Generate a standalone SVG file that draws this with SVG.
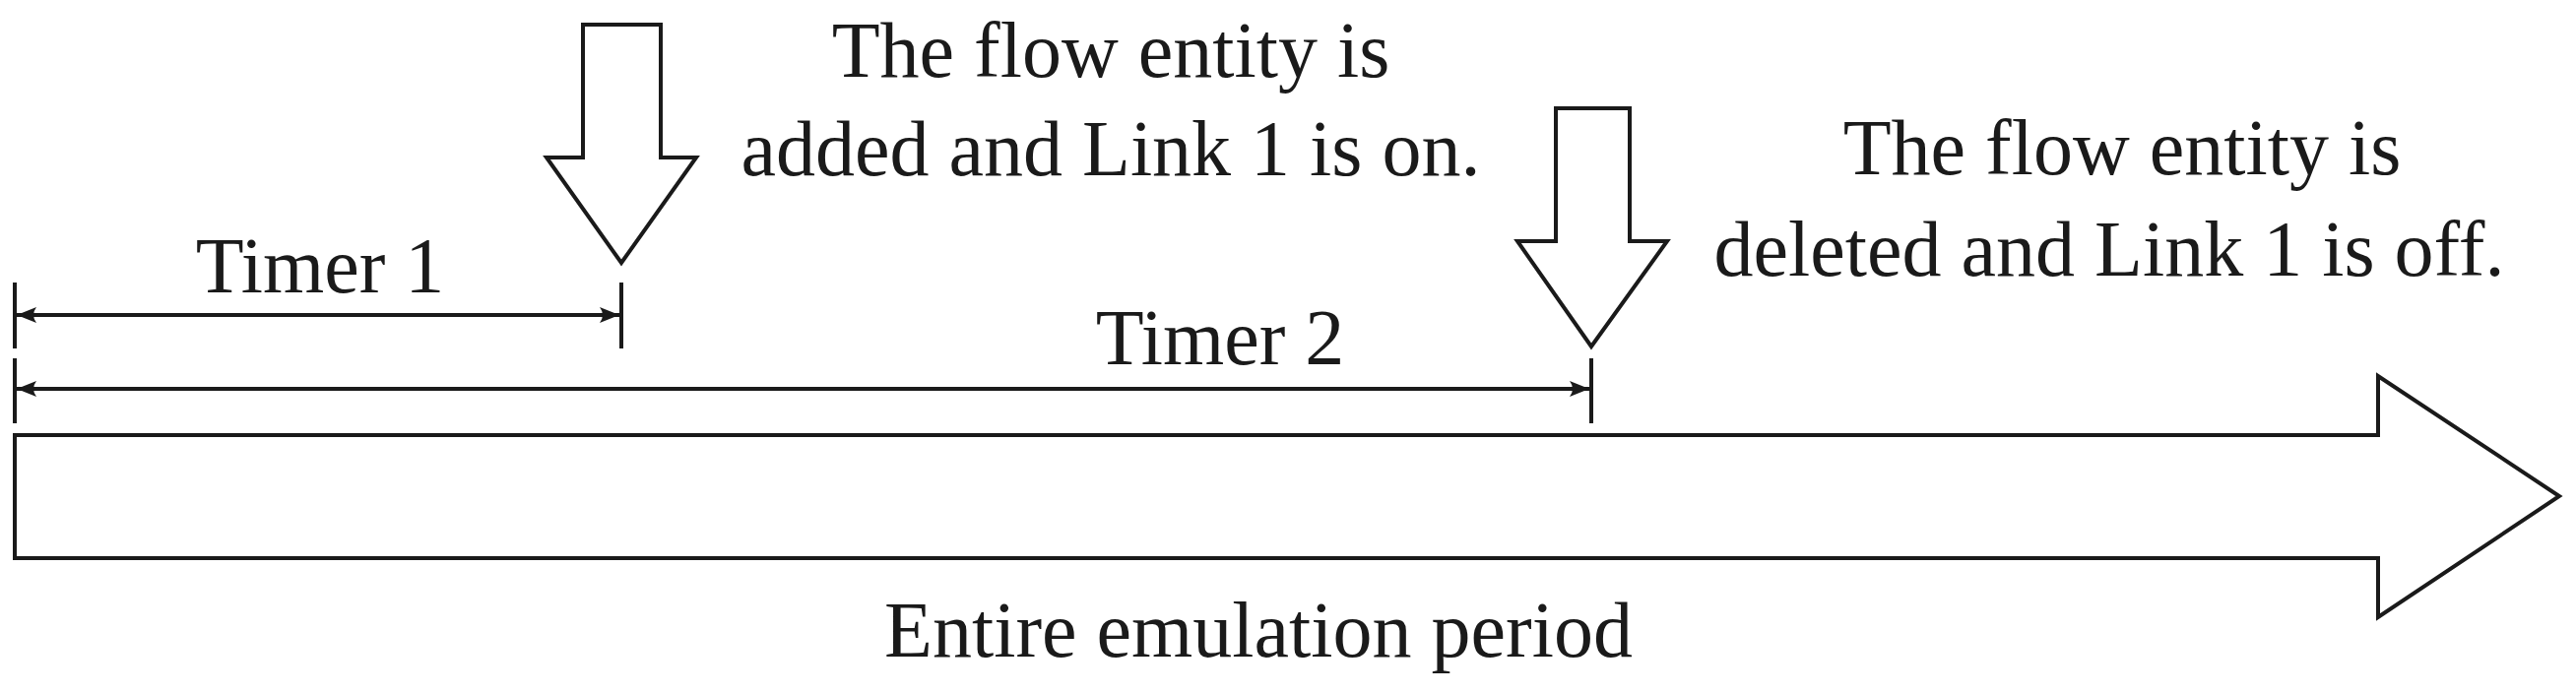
<svg xmlns="http://www.w3.org/2000/svg" width="2616" height="704" viewBox="0 0 2616 704">
<style>
.s{fill:#fff;stroke:#1a1a1a;stroke-width:4;stroke-linejoin:miter}
.l{stroke:#1a1a1a;stroke-width:4;fill:none}
text{font-family:"Liberation Serif","Times New Roman",serif;font-size:80px;fill:#1a1a1a;text-anchor:middle}
</style>
<defs>
<marker id="ah" viewBox="0 0 20 16" refX="20" refY="8" markerWidth="20" markerHeight="16" markerUnits="userSpaceOnUse" orient="auto-start-reverse">
<path d="M0,0 Q6,8 0,16 L20,8 Z" fill="#1a1a1a"/>
</marker>
</defs>
<g id="period">
<path class="s" d="M15,442 H2415 V382 L2599,504 L2415,627 V567 H15 Z"/>
<text x="1278" y="667">Entire emulation period</text>
</g>
<g id="event1">
<path class="s" d="M592,25 H671 V160 H707 L631,267 L555,160 H592 Z"/>
<text x="1128" y="78">The flow entity is</text>
<text x="1128" y="178">added and Link 1 is on.</text>
</g>
<g id="event2">
<path class="s" d="M1580,110 H1655 V245 H1693 L1616,352 L1541,245 H1580 Z"/>
<text x="2155" y="177">The flow entity is</text>
<text x="2142" y="280">deleted and Link 1 is off.</text>
</g>
<g id="timer1"><text x="325" y="297">Timer 1</text></g>
<g id="timer2"><text x="1239" y="370">Timer 2</text></g>
<g id="connectors">
<line class="l" x1="15" y1="287" x2="15" y2="354"/>
<line class="l" x1="631" y1="287" x2="631" y2="354"/>
<line class="l" x1="17" y1="320" x2="629" y2="320" marker-start="url(#ah)" marker-end="url(#ah)"/>
<line class="l" x1="15" y1="364" x2="15" y2="430"/>
<line class="l" x1="1616" y1="364" x2="1616" y2="430"/>
<line class="l" x1="17" y1="395" x2="1614" y2="395" marker-start="url(#ah)" marker-end="url(#ah)"/>
</g>
</svg>
